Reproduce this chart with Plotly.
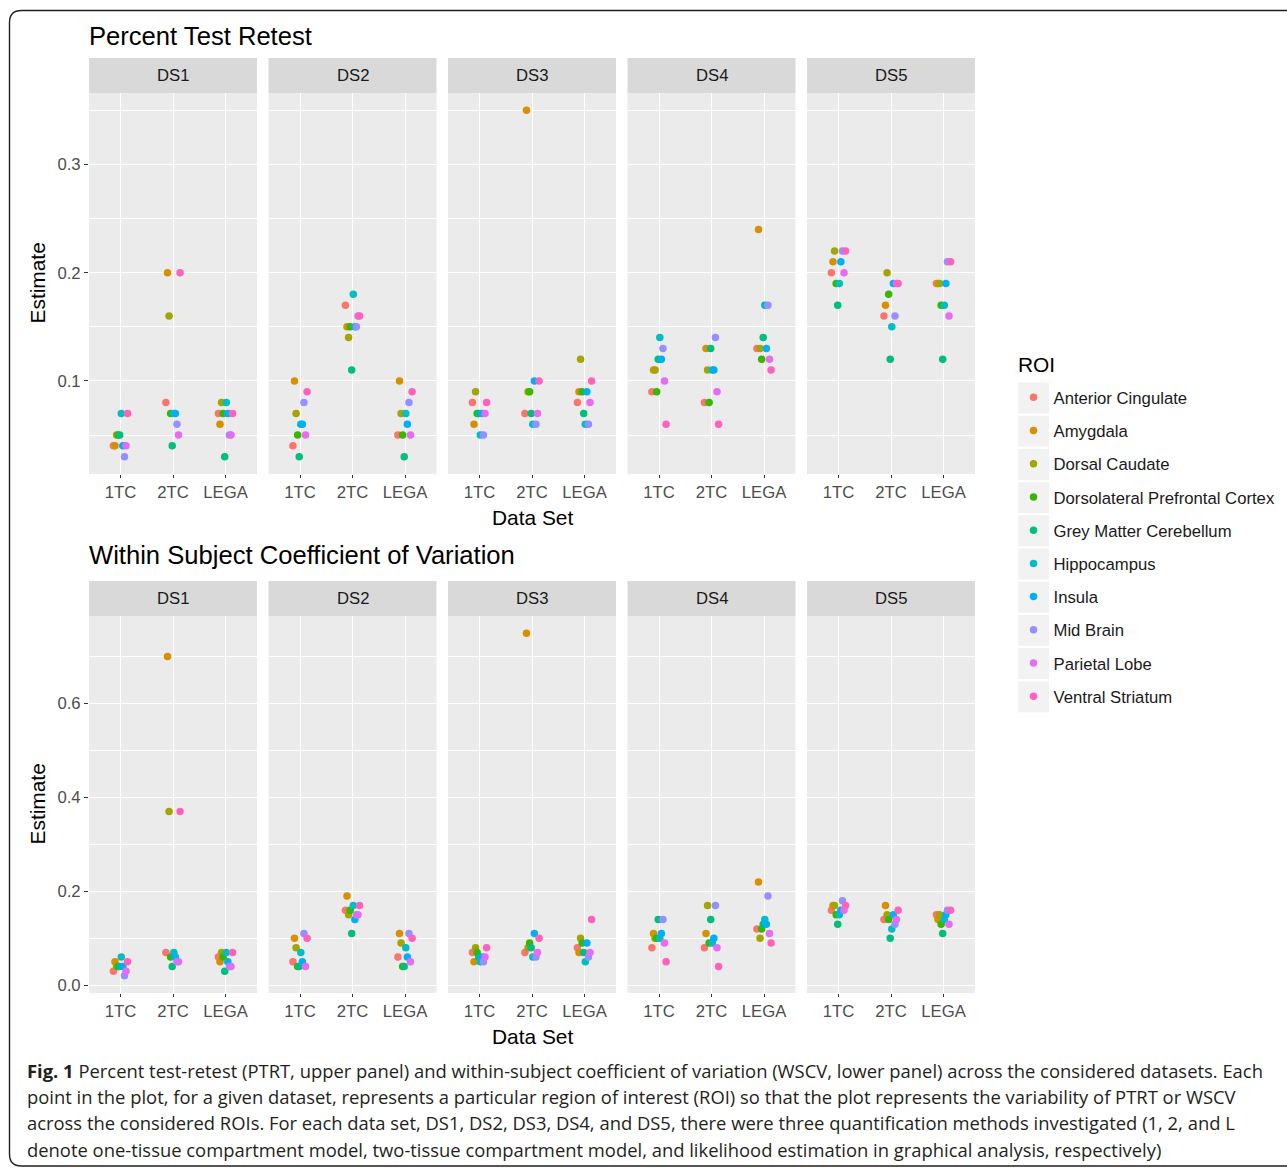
import numpy as np
import plotly.graph_objects as go

W, H = 1287, 1168

rois = ["Anterior Cingulate", "Amygdala", "Dorsal Caudate", "Dorsolateral Prefrontal Cortex",
        "Grey Matter Cerebellum", "Hippocampus", "Insula", "Mid Brain", "Parietal Lobe",
        "Ventral Striatum"]
roi_colors = ["#F8766D", "#D89000", "#A3A500", "#39B600", "#00BF7D",
              "#00BFC4", "#00B0F6", "#9590FF", "#E76BF3", "#FF62BC"]
datasets = ["DS1", "DS2", "DS3", "DS4", "DS5"]
methods = ["1TC", "2TC", "LEGA"]
panel_titles = ["Percent Test Retest", "Within Subject Coefficient of Variation"]

# Percent test-retest; rows = 1TC, 2TC, LEGA; columns = ROIs in the order above
ptrt_ds1 = [[0.04, 0.04, 0.05, 0.05, 0.05, 0.07, 0.04, 0.03, 0.04, 0.07],
            [0.08, 0.20, 0.16, 0.07, 0.04, 0.07, 0.07, 0.06, 0.05, 0.20],
            [0.07, 0.06, 0.08, 0.07, 0.03, 0.08, 0.07, 0.05, 0.05, 0.07]]
ptrt_ds2 = [[0.04, 0.10, 0.07, 0.05, 0.03, 0.06, 0.06, 0.08, 0.05, 0.09],
            [0.17, 0.15, 0.14, 0.15, 0.11, 0.18, 0.15, 0.15, 0.16, 0.16],
            [0.05, 0.10, 0.07, 0.05, 0.03, 0.07, 0.06, 0.08, 0.05, 0.09]]
ptrt_ds3 = [[0.08, 0.06, 0.09, 0.07, 0.07, 0.05, 0.07, 0.05, 0.07, 0.08],
            [0.07, 0.35, 0.09, 0.09, 0.07, 0.06, 0.10, 0.06, 0.07, 0.10],
            [0.08, 0.09, 0.12, 0.09, 0.07, 0.06, 0.09, 0.06, 0.08, 0.10]]
ptrt_ds4 = [[0.09, 0.11, 0.11, 0.09, 0.12, 0.14, 0.12, 0.13, 0.10, 0.06],
            [0.08, 0.13, 0.11, 0.08, 0.13, 0.11, 0.11, 0.14, 0.09, 0.06],
            [0.13, 0.24, 0.13, 0.12, 0.14, 0.17, 0.13, 0.17, 0.12, 0.11]]
ptrt_ds5 = [[0.20, 0.21, 0.22, 0.19, 0.17, 0.19, 0.21, 0.22, 0.20, 0.22],
            [0.16, 0.17, 0.20, 0.18, 0.12, 0.15, 0.19, 0.16, 0.19, 0.19],
            [0.19, 0.19, 0.19, 0.17, 0.12, 0.17, 0.19, 0.21, 0.16, 0.21]]

# Within-subject coefficient of variation
wscv_ds1 = [[0.03, 0.05, 0.04, 0.04, 0.04, 0.06, 0.04, 0.02, 0.03, 0.05],
            [0.07, 0.70, 0.37, 0.06, 0.04, 0.07, 0.06, 0.05, 0.05, 0.37],
            [0.06, 0.05, 0.07, 0.06, 0.03, 0.07, 0.05, 0.04, 0.04, 0.07]]
wscv_ds2 = [[0.05, 0.10, 0.08, 0.04, 0.04, 0.07, 0.05, 0.11, 0.04, 0.10],
            [0.16, 0.19, 0.15, 0.16, 0.11, 0.17, 0.14, 0.15, 0.15, 0.17],
            [0.06, 0.11, 0.09, 0.04, 0.04, 0.08, 0.06, 0.11, 0.05, 0.10]]
wscv_ds3 = [[0.07, 0.05, 0.08, 0.07, 0.06, 0.05, 0.06, 0.05, 0.06, 0.08],
            [0.07, 0.75, 0.08, 0.09, 0.08, 0.06, 0.11, 0.06, 0.07, 0.10],
            [0.08, 0.07, 0.10, 0.09, 0.07, 0.05, 0.09, 0.06, 0.07, 0.14]]
wscv_ds4 = [[0.08, 0.11, 0.10, 0.10, 0.14, 0.10, 0.11, 0.14, 0.09, 0.05],
            [0.08, 0.11, 0.17, 0.09, 0.14, 0.09, 0.10, 0.17, 0.08, 0.04],
            [0.12, 0.22, 0.10, 0.12, 0.13, 0.14, 0.13, 0.19, 0.11, 0.09]]
wscv_ds5 = [[0.16, 0.17, 0.17, 0.15, 0.13, 0.15, 0.16, 0.18, 0.16, 0.17],
            [0.14, 0.17, 0.15, 0.14, 0.10, 0.12, 0.15, 0.13, 0.14, 0.16],
            [0.15, 0.14, 0.15, 0.13, 0.11, 0.14, 0.15, 0.16, 0.13, 0.16]]

rows_data = [[ptrt_ds1, ptrt_ds2, ptrt_ds3, ptrt_ds4, ptrt_ds5],
             [wscv_ds1, wscv_ds2, wscv_ds3, wscv_ds4, wscv_ds5]]
y_major = [[0.1, 0.2, 0.3], [0.0, 0.2, 0.4, 0.6]]

caption_lines = [
    "<b>Fig. 1</b> Percent test-retest (PTRT, upper panel) and within-subject coefficient of variation (WSCV, lower panel) across the considered datasets. Each",
    "point in the plot, for a given dataset, represents a particular region of interest (ROI) so that the plot represents the variability of PTRT or WSCV",
    "across the considered ROIs. For each data set, DS1, DS2, DS3, DS4, and DS5, there were three quantification methods investigated (1, 2, and L",
    "denote one-tissue compartment model, two-tissue compartment model, and likelihood estimation in graphical analysis, respectively)",
]

# ---------------- layout geometry (pixels) ----------------
FONT = "Liberation Sans, Arial, Helvetica, sans-serif"
fx = lambda px: px / W
fy = lambda py: 1 - py / H

col_left = [89 + 179.5 * k for k in range(5)]
col_w = 168
row_plot = [(93, 474), (616, 993)]
row_strip = [(58, 93), (581, 616)]
row_title_y = [36, 555]
row_xtitle_y = [517, 1036]

dodge = (np.arange(len(rois)) - (len(rois) - 1) / 2) * 0.03
xpos = np.arange(len(methods))

fig = go.Figure()
layout = dict(
    width=W, height=H, margin=dict(l=0, r=0, t=0, b=0, autoexpand=False),
    paper_bgcolor="white", plot_bgcolor="#EBEBEB",
    font=dict(family=FONT, color="#1A1A1A"),
    showlegend=True,
)
shapes = []
annotations = []

for r in range(2):
    allv = np.array(rows_data[r]).ravel()
    lo, hi = allv.min(), allv.max()
    pad = 0.05 * (hi - lo)
    yr = [lo - pad, hi + pad]
    step = y_major[r][1] - y_major[r][0]
    minor_vals = list(np.arange(y_major[r][0] - step / 2, hi + pad + step, step))
    for d in range(5):
        k = r * 5 + d + 1
        xa = "xaxis" if k == 1 else f"xaxis{k}"
        ya = "yaxis" if k == 1 else f"yaxis{k}"
        xr = "x" if k == 1 else f"x{k}"
        yrf = "y" if k == 1 else f"y{k}"
        x0 = col_left[d]
        x1 = x0 + col_w
        py0, py1 = row_plot[r]
        layout[xa] = dict(
            domain=[fx(x0), fx(x1)], anchor=yrf, range=[-0.6, len(methods) - 0.4],
            tickmode="array", tickvals=list(xpos), ticktext=methods,
            showgrid=True, gridcolor="white", gridwidth=1.3, zeroline=False,
            showline=False, ticks="outside", ticklen=3, tickwidth=1, tickcolor="#333333",
            tickfont=dict(size=16.7, color="#4D4D4D", family=FONT), fixedrange=True,
        )
        layout[ya] = dict(
            domain=[fy(py1), fy(py0)], anchor=xr, range=yr,
            tickmode="array", tickvals=y_major[r],
            ticktext=[f"{v:.1f}" for v in y_major[r]],
            showticklabels=(d == 0), ticks="outside" if d == 0 else "",
            ticklen=4, tickwidth=1, tickcolor="#333333",
            tickfont=dict(size=16.7, color="#4D4D4D", family=FONT),
            showgrid=True, gridcolor="white", gridwidth=1.3, zeroline=False, showline=False,
            minor=dict(tickmode="array", tickvals=minor_vals, showgrid=True,
                       gridcolor="white", gridwidth=0.6, ticks=""),
            fixedrange=True,
        )
        data = rows_data[r][d]
        for i, roi in enumerate(rois):
            fig.add_trace(go.Scatter(
                x=xpos + dodge[i], y=[data[m][i] for m in range(len(methods))],
                xaxis=xr, yaxis=yrf, mode="markers", name=roi,
                legendgroup=roi, showlegend=(k == 1),
                marker=dict(color=roi_colors[i], size=7.5, line=dict(width=0)),
                hovertemplate=f"{roi}<br>%{{y}}<extra>{datasets[d]}</extra>",
            ))
        # facet strip
        s0, s1 = row_strip[r]
        shapes.append(dict(type="rect", xref="paper", yref="paper",
                           x0=fx(x0), x1=fx(x1), y0=fy(s1), y1=fy(s0),
                           fillcolor="#D9D9D9", line=dict(width=0), layer="below"))
        annotations.append(dict(text=datasets[d], xref="paper", yref="paper",
                                x=fx((x0 + x1) / 2), y=fy((s0 + s1) / 2),
                                showarrow=False, xanchor="center", yanchor="middle",
                                font=dict(size=16.7, color="#1A1A1A", family=FONT)))
    # row title, axis titles
    annotations.append(dict(text=panel_titles[r], xref="paper", yref="paper",
                            x=fx(87), y=fy(row_title_y[r]), showarrow=False,
                            xanchor="left", yanchor="middle",
                            font=dict(size=25.6, color="black", family=FONT)))
    annotations.append(dict(text="Data Set", xref="paper", yref="paper",
                            x=fx((col_left[0] + col_left[-1] + col_w) / 2),
                            y=fy(row_xtitle_y[r]), showarrow=False,
                            xanchor="center", yanchor="middle",
                            font=dict(size=20.9, color="black", family=FONT)))
    annotations.append(dict(text="Estimate", xref="paper", yref="paper",
                            x=fx(37), y=fy(sum(row_plot[r]) / 2), showarrow=False,
                            textangle=-90, xanchor="center", yanchor="middle",
                            font=dict(size=20.9, color="black", family=FONT)))

# legend title and key backgrounds
annotations.append(dict(text="ROI", xref="paper", yref="paper", x=fx(1016), y=fy(364),
                        showarrow=False, xanchor="left", yanchor="middle",
                        font=dict(size=20.9, color="black", family=FONT)))
for i in range(len(rois)):
    cy = 398 + 33.2 * i
    shapes.append(dict(type="rect", xref="paper", yref="paper",
                       x0=fx(1018), x1=fx(1049), y0=fy(cy + 15.5), y1=fy(cy - 15.5),
                       fillcolor="#F2F2F2", line=dict(width=0), layer="below"))

# caption
cap_y = [1070, 1096, 1122, 1149]
for line, cy in zip(caption_lines, cap_y):
    annotations.append(dict(text=line, xref="paper", yref="paper", x=fx(25), y=fy(cy),
                            showarrow=False, xanchor="left", yanchor="middle", align="left",
                            font=dict(size=18.4, color="#231F20", family="Open Sans")))

# rounded frame
rr = 12
bx0, by0, bx1, by1 = 9.5, 10.5, 1300, 1166
pts = [
    f"M {fx(bx0 + rr)},{fy(by0)}", f"L {fx(bx1 - rr)},{fy(by0)}",
    f"Q {fx(bx1)},{fy(by0)} {fx(bx1)},{fy(by0 + rr)}", f"L {fx(bx1)},{fy(by1 - rr)}",
    f"Q {fx(bx1)},{fy(by1)} {fx(bx1 - rr)},{fy(by1)}", f"L {fx(bx0 + rr)},{fy(by1)}",
    f"Q {fx(bx0)},{fy(by1)} {fx(bx0)},{fy(by1 - rr)}", f"L {fx(bx0)},{fy(by0 + rr)}",
    f"Q {fx(bx0)},{fy(by0)} {fx(bx0 + rr)},{fy(by0)}", "Z",
]
shapes.append(dict(type="path", xref="paper", yref="paper", path=" ".join(pts),
                   line=dict(color="#231F20", width=1.4), fillcolor="rgba(0,0,0,0)",
                   layer="above"))

layout["shapes"] = shapes
layout["annotations"] = annotations
layout["legend"] = dict(
    x=fx(1013.5), y=fy(380), xanchor="left", yanchor="top",
    bgcolor="rgba(0,0,0,0)", borderwidth=0, tracegroupgap=8.5,
    traceorder="grouped",
    font=dict(size=16.7, color="#1A1A1A", family=FONT),
)
fig.update_layout(**layout)

fig.write_html("out.html", config=dict(displayModeBar=False),
               post_script="document.body.style.margin='0';document.body.style.overflow='hidden';")
